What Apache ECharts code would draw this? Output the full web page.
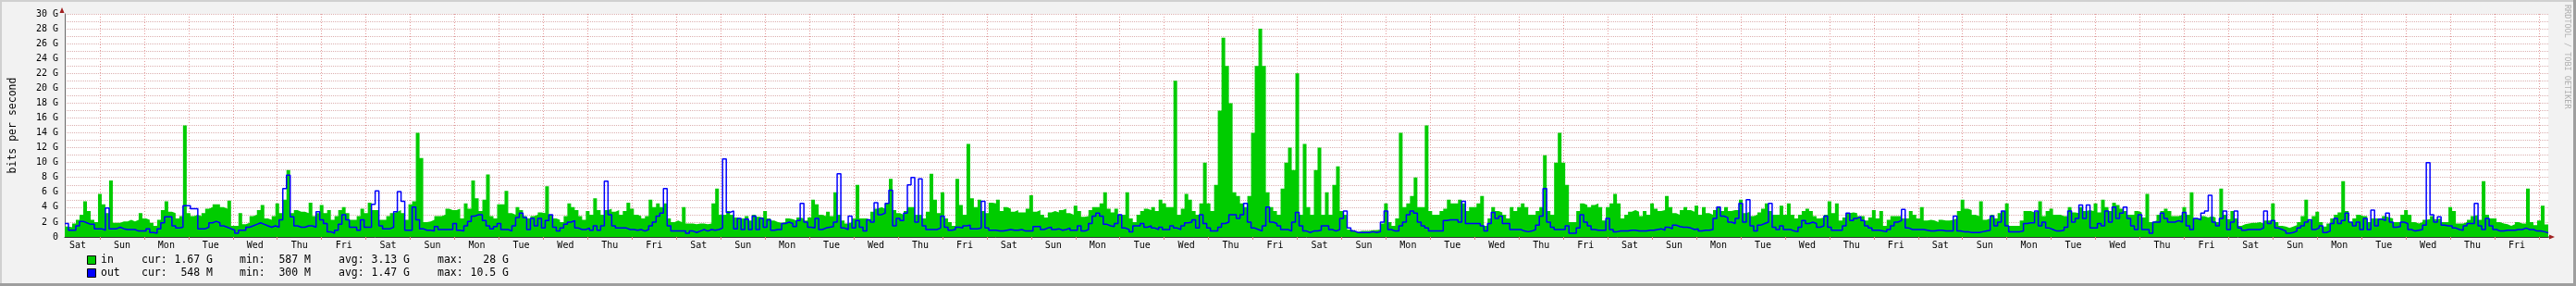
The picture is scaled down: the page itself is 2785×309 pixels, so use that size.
<!DOCTYPE html>
<html><head><meta charset="utf-8">
<script src="https://cdn.jsdelivr.net/npm/echarts@6/dist/echarts.min.js"></script>
<style>html,body{margin:0;padding:0;background:#f2f2f2;}#c{width:2785px;height:309px;}</style>
</head><body><div id="c"></div>
<script>
// time axis: hours from Sat 05:00, 56 days, one value every 2 hours
const binHours = 2;
const totalHours = 1344;
const weekDays = ['Sat','Sun','Mon','Tue','Wed','Thu','Fri'];
const dayCount = 56;
const firstMidnight = 19;   // hours from start to the first midnight
const firstNoon = 7;        // hours from start to the first noon (label position)
const yTicks = [0,2,4,6,8,10,12,14,16,18,20,22,24,26,28,30];

// inbound, Gbit/s
const inbound = [
1.4,1.3,1.8,2.3,3.0,4.8,3.5,2.3,2.0,5.8,4.4,3.2,7.6,1.9,1.9,2.1,2.1,2.3,2.1,2.3,
3.2,2.5,2.3,1.9,1.5,2.3,3.6,4.8,3.4,3.2,2.5,2.8,15.0,3.2,2.8,3.0,2.8,3.2,3.8,4.0,
4.4,4.4,4.0,3.8,4.9,1.5,1.5,3.2,1.7,1.9,2.8,3.0,3.6,4.3,2.5,2.3,2.8,4.5,3.2,5.0,
9.0,3.2,3.6,3.4,3.4,3.2,4.6,2.8,3.2,4.3,3.2,3.6,2.3,2.8,3.6,4.0,3.2,2.3,2.3,2.8,
3.8,3.2,4.6,3.6,3.6,2.3,2.3,2.8,3.2,3.4,3.6,3.2,2.3,4.4,4.8,14.0,
10.6,2.0,2.1,2.3,2.8,2.8,3.0,3.8,3.6,3.6,3.8,2.5,4.5,3.8,7.6,5.2,3.5,5.0,8.4,2.8,
2.5,4.4,4.4,6.2,3.2,3.0,4.0,3.6,2.8,2.5,2.8,3.0,3.3,3.2,6.8,3.0,2.5,2.3,2.0,2.8,
4.5,4.0,3.6,2.8,2.3,3.5,3.0,5.2,3.6,3.0,3.6,3.8,3.4,3.6,3.0,3.5,4.6,3.8,3.0,2.8,
2.5,2.8,5.0,4.0,4.5,4.0,4.5,2.5,2.0,2.2,2.0,4.0,1.8,1.8,1.7,1.8,1.8,1.7,1.8,4.5,
6.5,3.0,3.0,3.5,3.0,2.6,2.5,2.5,2.8,2.2,3.0,2.7,2.6,3.5,2.5,2.2,
2.0,1.9,2.0,2.5,2.4,2.2,2.6,2.5,2.2,2.6,5.0,4.4,3.0,2.8,3.4,2.8,6.0,3.0,2.2,1.8,
2.0,2.5,7.0,2.5,2.5,2.3,3.4,3.8,4.0,3.8,4.5,7.8,3.6,3.2,3.0,3.5,4.0,4.0,3.0,3.0,
2.5,3.4,8.5,5.0,3.2,6.0,2.5,2.0,1.5,7.8,4.3,3.0,12.5,5.2,4.0,5.0,3.5,3.2,4.6,4.5,
5.0,3.5,4.0,3.8,3.4,3.6,3.3,3.3,3.8,5.6,3.4,3.6,3.0,2.6,3.3,3.5,3.3,3.6,3.8,3.2,
3.0,4.2,3.5,2.7,2.8,3.6,4.0,4.0,4.5,6.0,3.8,3.3,3.8,3.0,3.0,6.0,
2.5,2.0,3.0,3.5,3.8,3.6,4.0,3.5,5.0,4.5,4.0,4.0,21.0,3.0,3.8,5.8,5.0,3.5,3.0,4.5,
10.0,4.5,3.5,7.0,17.0,26.8,23.0,18.0,6.0,5.5,4.5,4.0,5.5,14.0,23.0,28.0,23.0,6.0,4.0,3.5,
3.0,6.5,10.0,12.0,9.0,22.0,3.0,12.5,4.0,3.0,9.0,12.0,3.0,6.0,3.0,7.0,9.5,3.5,3.0,1.0,
0.8,0.7,0.8,0.8,0.8,0.9,0.9,1.0,1.8,4.5,2.0,1.5,2.5,14.0,4.0,4.5,5.5,8.0,4.0,4.0,
15.0,3.5,3.0,3.0,3.5,3.8,5.0,4.5,4.5,5.0,4.5,3.5,4.0,4.0,4.5,5.5,
1.5,2.5,4.0,3.5,3.3,3.0,2.5,4.0,3.5,4.0,4.5,4.0,3.0,3.0,3.5,4.0,11.0,3.5,3.0,10.0,
14.0,10.0,7.0,2.0,2.0,3.5,4.5,4.3,4.0,4.3,4.5,4.0,2.2,4.0,4.5,5.8,4.5,2.5,3.0,3.4,
3.6,3.4,2.8,3.5,3.0,4.5,3.8,3.5,3.6,5.5,4.0,3.2,3.0,3.6,4.0,3.6,3.4,4.2,3.0,4.0,
3.2,3.0,3.6,4.0,3.5,4.0,3.5,3.6,3.6,5.0,3.2,3.4,2.8,3.0,3.3,3.8,4.5,3.5,3.0,3.0,
4.2,3.0,4.5,3.0,2.5,3.0,3.5,3.8,3.5,2.8,2.5,2.6,3.0,4.8,3.2,4.5,
2.2,2.6,3.2,3.3,3.2,2.8,2.8,2.2,2.6,3.6,2.5,3.5,1.5,2.3,2.8,2.8,2.8,2.5,2.5,3.5,
3.0,2.5,4.0,2.2,2.3,2.2,2.0,2.3,2.2,2.2,2.3,2.5,3.5,5.0,3.8,3.6,3.0,2.8,4.8,2.3,
2.5,3.0,2.5,3.2,3.5,4.5,1.5,1.5,1.5,2.2,3.5,3.5,3.3,3.5,4.8,2.8,3.5,3.8,3.0,3.0,
2.8,2.8,4.0,3.3,3.2,4.0,3.5,3.6,3.5,4.5,3.3,5.0,4.0,3.5,4.6,4.3,3.8,3.5,3.0,3.0,
3.5,3.3,2.6,5.8,2.0,2.2,3.0,3.5,3.8,3.5,2.8,2.8,3.0,4.0,3.0,6.0,
2.5,2.4,2.8,2.6,2.8,2.6,2.0,6.5,3.0,2.4,3.5,2.5,1.5,1.7,1.8,1.9,1.9,2.0,1.8,2.2,
2.2,4.5,2.0,1.5,1.4,1.2,1.4,1.6,2.0,2.8,5.0,2.2,2.8,3.4,2.0,1.4,1.8,2.5,3.0,3.3,
7.5,3.5,2.0,2.5,3.0,2.8,2.8,2.0,2.5,2.5,2.5,2.8,2.6,2.5,2.0,2.0,3.0,3.6,3.0,2.0,
1.8,2.0,2.3,2.4,2.8,2.4,2.5,2.0,2.0,4.0,3.5,1.8,1.8,2.0,2.3,2.8,3.0,2.3,7.5,3.0,
2.5,2.5,2.0,1.8,1.7,1.5,1.7,2.0,1.8,1.8,6.5,2.0,1.6,2.2,4.2,1.67
];

// outbound, Gbit/s
const outbound = [
1.8,0.9,0.9,1.5,2.1,1.9,1.7,1.7,1.1,1.1,0.9,3.9,1.1,1.1,1.3,1.1,1.0,1.0,1.0,0.8,
0.8,0.8,1.1,0.6,0.5,1.1,1.9,2.7,2.7,1.5,1.2,1.3,4.2,4.2,3.8,3.8,1.1,1.1,1.3,1.9,
2.1,1.9,1.5,1.3,1.1,0.9,0.5,0.9,0.9,1.3,1.5,1.7,1.9,1.7,1.5,1.3,1.5,1.3,2.3,6.5,
8.3,2.7,1.5,1.3,1.3,1.5,1.5,1.3,3.4,2.3,1.8,0.7,0.5,0.9,1.7,3.0,2.3,1.3,1.3,0.9,
2.3,1.3,1.3,4.4,6.2,1.5,1.1,1.1,1.3,3.4,6.1,4.8,0.9,0.9,4.0,2.3,
1.1,0.9,0.9,0.8,1.4,1.0,1.0,1.0,1.0,1.8,0.9,0.8,1.5,2.1,2.8,3.0,3.0,2.2,1.5,1.1,
1.4,1.8,1.0,1.0,0.8,1.5,2.6,3.2,2.6,1.0,2.5,1.5,2.5,1.2,2.2,3.0,1.3,0.8,1.2,1.7,
2.0,2.2,1.2,1.0,1.0,1.2,0.9,1.5,0.9,1.5,7.5,3.0,1.5,1.2,1.2,1.2,1.0,1.0,0.9,1.0,
0.8,1.0,1.5,2.0,2.8,3.2,6.5,1.5,0.8,0.8,0.8,0.8,0.5,0.8,0.6,0.8,1.0,0.8,1.0,0.9,
1.0,1.2,10.5,3.3,3.5,1.1,2.5,1.0,2.4,1.0,2.8,1.0,2.5,1.3,2.3,0.9,
1.0,1.0,1.8,2.0,1.8,1.4,2.2,4.5,2.0,1.3,1.2,2.5,1.0,1.2,1.3,1.4,2.0,8.5,1.2,1.0,
2.8,1.2,2.2,1.3,0.8,2.3,2.0,4.6,3.0,3.2,4.5,6.3,1.5,2.5,2.2,3.2,7.0,8.0,2.0,7.8,
1.5,1.0,1.0,1.0,1.2,2.8,1.3,0.9,1.0,1.3,1.2,1.5,1.6,1.1,1.1,1.2,4.8,1.2,0.9,0.9,
0.8,0.8,0.9,1.0,0.9,0.9,1.0,0.8,0.8,0.8,1.4,1.4,1.0,1.2,1.3,1.0,1.1,0.9,1.0,1.2,
0.9,0.9,1.5,0.8,1.0,1.8,2.8,3.2,2.8,1.7,1.5,1.4,1.8,3.0,1.2,1.0,
0.7,1.5,1.5,1.8,1.3,1.5,1.2,1.0,1.3,1.0,1.0,1.5,1.2,1.0,1.5,1.9,2.0,2.3,1.2,3.0,
1.8,1.2,0.8,0.8,1.3,1.8,2.0,3.0,3.0,2.5,3.0,4.5,2.0,1.2,1.0,0.8,1.5,4.0,2.0,1.8,
1.5,1.0,1.0,0.8,2.0,3.3,1.5,0.8,0.6,0.8,0.8,0.9,1.5,1.5,1.0,0.8,1.0,2.5,3.5,1.2,
0.8,0.6,0.6,0.6,0.6,0.7,0.6,0.7,2.0,3.5,1.0,0.8,0.8,1.5,2.0,3.0,3.5,3.2,2.0,1.5,
1.2,0.8,0.8,0.8,0.8,2.2,2.3,2.3,2.3,2.0,4.8,1.8,1.8,1.8,1.8,1.5,
0.8,1.8,3.3,2.5,2.8,1.8,1.8,1.0,1.0,1.0,0.8,0.7,0.8,1.0,1.6,2.8,6.5,2.0,1.3,1.0,
1.0,1.0,1.5,0.5,0.5,1.2,3.0,2.0,1.5,1.0,0.9,0.9,0.9,2.5,1.0,0.7,0.8,0.8,0.8,0.9,
0.9,0.8,0.8,0.8,0.9,0.9,1.0,1.1,0.9,1.3,1.1,1.6,1.4,1.3,1.3,1.2,1.0,1.1,0.8,0.9,
0.9,1.0,2.5,4.0,2.8,2.6,2.0,1.8,2.5,4.5,2.0,5.0,1.5,0.8,1.6,1.8,2.0,4.5,1.3,1.0,
1.5,1.0,1.0,0.8,0.7,1.3,2.2,1.8,2.0,1.8,1.3,1.5,2.8,1.3,0.9,0.9,
0.9,1.5,3.2,2.2,2.5,2.7,2.2,1.5,1.2,0.9,0.9,0.8,0.7,1.0,1.5,2.0,2.2,3.7,1.2,1.0,
1.0,1.0,1.0,0.9,0.8,0.8,0.9,0.9,0.8,0.8,0.8,2.8,0.8,0.7,0.7,0.6,0.6,0.6,0.7,0.8,
0.9,2.8,1.5,2.0,3.5,1.5,0.7,0.7,0.7,0.8,1.8,1.9,1.9,3.5,1.5,2.0,1.2,1.0,0.8,0.8,
0.9,1.3,3.5,2.0,2.5,4.3,2.5,4.3,1.2,1.2,1.8,1.5,3.5,2.0,4.0,2.5,3.2,4.0,2.5,1.5,
1.0,3.0,1.0,1.0,0.5,2.0,2.0,3.2,2.5,2.0,2.0,2.2,2.0,3.3,1.5,1.0,
2.5,2.3,3.2,3.5,5.6,2.0,1.5,2.5,3.5,1.0,2.0,3.5,1.2,0.9,1.0,1.0,1.0,1.0,1.2,3.5,
1.8,2.2,1.2,1.0,0.8,0.5,0.6,0.8,1.2,1.5,2.0,2.3,1.0,1.2,1.5,0.6,0.8,1.8,2.5,1.8,
2.2,3.2,2.0,1.5,2.0,1.0,2.5,1.0,3.6,1.5,2.4,2.2,3.2,2.0,1.3,1.4,2.0,1.8,1.0,0.8,
0.9,1.0,1.6,10.0,3.0,2.0,2.7,1.6,1.5,1.5,1.2,1.0,0.9,1.5,1.8,1.8,4.5,1.5,1.0,2.5,
1.5,1.0,0.8,0.8,0.9,0.9,0.9,1.0,1.0,1.2,1.0,1.0,0.8,0.8,0.7,0.548
];

// legend statistics
const legendNames = ['in','out'];
const legendColors = ['#00cc00','#0000ff'];
const statLabels = ['cur:','min:','avg:','max:'];
const inStats  = ['1.67 G','587 M','3.13 G','28 G'];
const outStats = ['548 M','300 M','1.47 G','10.5 G'];

function toSteps(arr){
  const d = arr.map((v,i)=>[i*binHours, v]);
  d.push([arr.length*binHours, arr[arr.length-1]]);
  return d;
}
const midnights = [], noons = [];
for (let k=0;k<dayCount;k++){ midnights.push(firstMidnight+24*k); noons.push(firstNoon+24*k); }

const FONT = 'DejaVu Sans Mono';
const chart = echarts.init(document.getElementById('c'), null, {renderer:'canvas'});

const legendGraphics = [];
const statX = [153,259,366,473];
const valRight = [230,336,443,550];
[inStats,outStats].forEach((stats,row)=>{
  const cy = 281 + row*14;
  legendGraphics.push({type:'rect', shape:{x:94.5,y:cy-4.5,width:9,height:9}, style:{fill:legendColors[row], stroke:'#000', lineWidth:1}});
  legendGraphics.push({type:'text', x:109, y:cy, style:{text:legendNames[row], font:'11.5px "'+FONT+'"', fill:'#000', verticalAlign:'middle', align:'left'}});
  stats.forEach((s,j)=>{
    legendGraphics.push({type:'text', x:statX[j], y:cy, style:{text:statLabels[j], font:'11.5px "'+FONT+'"', fill:'#000', verticalAlign:'middle', align:'left'}});
    legendGraphics.push({type:'text', x:valRight[j], y:cy, style:{text:s, font:'11.5px "'+FONT+'"', fill:'#000', verticalAlign:'middle', align:'right'}});
  });
});

chart.setOption({
  animation:false,
  backgroundColor:'#f2f2f2',
  grid:{left:67, right:30, top:15, bottom:53, show:true, backgroundColor:'#ffffff', borderWidth:0},
  xAxis:{
    type:'value', min:0, max:totalHours,
    axisLine:{show:true, onZero:false, lineStyle:{color:'#333', width:1}},
    axisTick:{show:true, customValues:midnights, length:3, lineStyle:{color:'#e08080'}},
    axisLabel:{show:true, customValues:noons, margin:4, fontFamily:FONT, fontSize:10, color:'#000',
      formatter:(v)=>weekDays[Math.round((v-firstNoon)/24)%7]},
    splitLine:{show:true, lineStyle:{color:'#e49a9a', width:1, type:[1,2]}}
  },
  yAxis:{
    type:'value', min:0, max:30, interval:1,
    name:'bits per second', nameLocation:'middle', nameGap:50, nameRotate:90,
    nameTextStyle:{fontFamily:FONT, fontSize:11.5, color:'#000'},
    axisLine:{show:true, lineStyle:{color:'#666'}},
    axisTick:{show:false},
    axisLabel:{margin:7, fontFamily:FONT, fontSize:10, color:'#000',
      formatter:(v)=> yTicks.indexOf(v)<0 ? '' : (v===0 ? '0' : v+' G')},
    splitLine:{show:true, lineStyle:{color:'#dcb0b0', width:1, type:[1,1]}}
  },
  series:[
    {type:'line', name:'in', data:toSteps(inbound), step:'end', showSymbol:false, symbol:'none',
      lineStyle:{width:0, color:'#00cc00'}, areaStyle:{color:'#00cc00', opacity:1}, itemStyle:{color:'#00cc00'}, z:2},
    {type:'line', name:'out', data:toSteps(outbound), step:'end', showSymbol:false, symbol:'none',
      lineStyle:{width:1.5, color:'#0000ff'}, itemStyle:{color:'#0000ff'}, z:3}
  ],
  graphic:[
    {type:'rect', shape:{x:0,y:0,width:2785,height:2}, style:{fill:'#d0d0d0'}, silent:true},
    {type:'rect', shape:{x:0,y:0,width:2,height:309}, style:{fill:'#d0d0d0'}, silent:true},
    {type:'rect', shape:{x:0,y:306,width:2785,height:3}, style:{fill:'#9e9e9e'}, silent:true},
    {type:'rect', shape:{x:2782,y:0,width:3,height:309}, style:{fill:'#9e9e9e'}, silent:true},
    {type:'polygon', shape:{points:[[64.5,14],[69.5,14],[67,8]]}, style:{fill:'#a02020'}, z:10},
    {type:'polygon', shape:{points:[[2756,253.5],[2756,258.5],[2762,256]]}, style:{fill:'#a02020'}, z:10},
    {type:'line', shape:{x1:2755,y1:256,x2:2757,y2:256}, style:{stroke:'#333'}},
    {type:'text', x:2775, y:5, rotation:-Math.PI/2,
      style:{text:'RRDTOOL / TOBI OETIKER', font:'8.5px "'+FONT+'"', fill:'#b0b0b0', align:'left', verticalAlign:'middle'}}
  ].concat(legendGraphics)
});
</script></body></html>
